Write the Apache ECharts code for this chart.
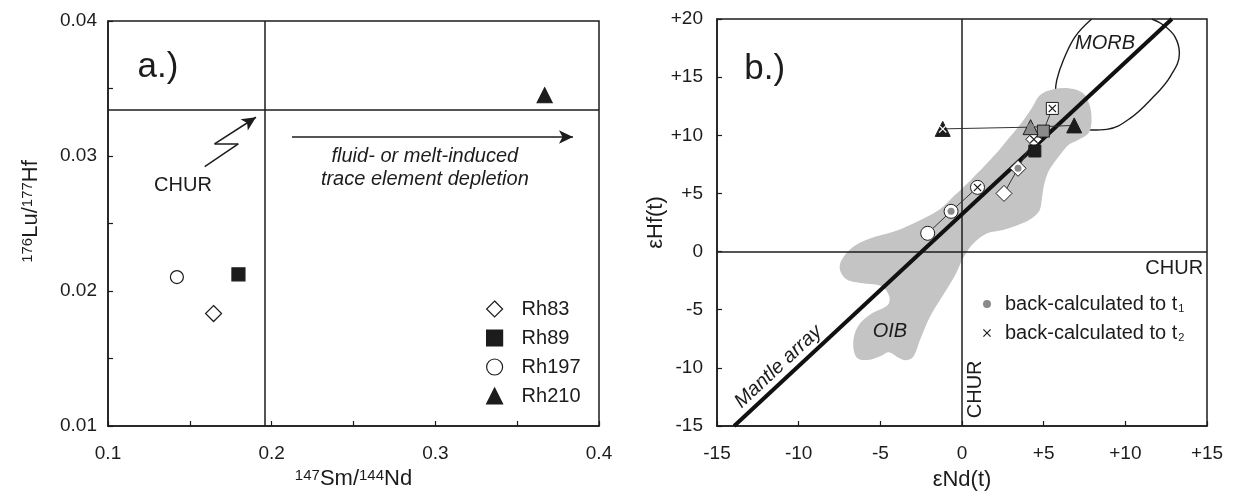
<!DOCTYPE html>
<html>
<head>
<meta charset="utf-8">
<script src="https://cdn.jsdelivr.net/npm/echarts@6/dist/echarts.min.js"></script>
<style>
html,body{margin:0;padding:0;background:#fff;}
#chart{width:1234px;height:497px;}
</style>
</head>
<body>
<div id="chart"></div>
<script>
// ===== Panel a: 147Sm/144Nd vs 176Lu/177Hf =====
const samples = ['Rh83', 'Rh89', 'Rh197', 'Rh210'];
const smNd = [0.1645, 0.1797, 0.1421, 0.3668];
const luHf = [0.01833, 0.02123, 0.02103, 0.0345];
const churSmNd = 0.196;
const churLuHf = 0.03345;
const aXLabels = ['0.1', '0.2', '0.3', '0.4'];
const aYLabels = ['0.01', '0.02', '0.03', '0.04'];

// ===== Panel b: eNd(t) vs eHf(t) =====
const eNdMeas = [2.57, 4.46, -2.10, 6.87];
const eHfMeas = [5.00, 8.65, 1.57, 10.85];
const eNdT1 = [3.43, 4.98, -0.67, 4.20];
const eHfT1 = [7.16, 10.36, 3.46, 10.70];
const eNdT2 = [4.40, 5.53, 0.95, -1.18];
const eHfT2 = [9.65, 12.31, 5.52, 10.55];
const bXLabels = ['-15', '-10', '-5', '0', '+5', '+10', '+15'];
const bYLabels = ['-15', '-10', '-5', '0', '+5', '+10', '+15', '+20'];
const mantleArray = [[-13.95, -15], [12.85, 20]];
const morbOutline = [[7.94, 20], [6.92, 18.47], [6.21, 16.47], [5.8, 14.75], [5.72, 13.6], [6.3, 12.0], [7.2, 10.8],
  [7.94, 10.45], [8.86, 10.51], [10.29, 11.45], [11.72, 13.31], [12.74, 15.03], [13.31, 17.04], [13.04, 18.47],
  [12.33, 19.48], [11.62, 20]];
const oibField = [[4.78, 13.46], [5.59, 13.95], [6.61, 14.03], [7.43, 13.6], [7.84, 12.45], [7.92, 11.0], [7.7, 10.1],
  [7.1, 9.6], [6.55, 9.2], [6.07, 8.43], [5.6, 7.57], [5.24, 6.71], [5.0, 5.57], [4.88, 4.43], [4.76, 3.57], [4.4, 3.0],
  [3.69, 2.43], [2.5, 1.86], [1.55, 1.57], [0.71, 0.71], [0.12, -0.43], [-0.36, -1.86], [-0.83, -3.0], [-1.35, -4.17],
  [-1.96, -5.61], [-2.57, -7.61], [-2.98, -9.04], [-3.45, -9.35], [-3.85, -9.15], [-4.5, -8.65], [-5.0, -9.0],
  [-5.84, -9.33], [-6.45, -9.1], [-6.66, -7.89], [-6.4, -6.5], [-5.6, -5.4], [-4.55, -4.6], [-4.45, -3.85], [-4.9, -3.0],
  [-6.04, -2.73], [-7.06, -2.4], [-7.47, -1.59], [-7.37, -0.73], [-6.66, 0.41], [-5.63, 1.13], [-4.21, 1.7],
  [-2.98, 2.42], [-1.4, 3.6], [-0.4, 4.9], [0.5, 6.1], [1.4, 7.4], [2.2, 8.6], [2.9, 9.8], [3.6, 11.0], [4.3, 12.4]];

// ===== styles =====
const FONT = '"Liberation Sans", Arial, sans-serif';
const INK = '#1c1c1c';
const GRAY = '#8a8a8a';
const symbols = ['diamond', 'rect', 'circle', 'triangle'];
const sizeA = [16, 13, 13, 15];
const sizeB = [16, 12, 14, 15];
const filled = [false, true, false, true];
const t2Fill = ['#fff', '#fff', '#fff', INK];
const t2Cross = [INK, INK, INK, '#fff'];
const CROSS = 'path://M0,1L1,0L5,4L9,0L10,1L6,5L10,9L9,10L5,6L1,10L0,9L4,5Z';

const textA = [
  {t: 'a.)', x: 0.1305, y: 0.03655, size: 35},
  {t: 'fluid- or melt-induced', x: 0.2936, y: 0.0300, size: 20, italic: true},
  {t: 'trace element depletion', x: 0.2936, y: 0.0283, size: 20, italic: true},
  {t: 'CHUR', x: 0.1458, y: 0.02785, size: 20}
];
const textB = [
  {t: 'b.)', x: -12.08, y: 15.71, size: 35},
  {t: 'MORB', x: 8.76, y: 17.9, size: 20, italic: true},
  {t: 'OIB', x: -4.41, y: -6.9, size: 20, italic: true},
  {t: 'Mantle array', x: -11.25, y: -9.9, size: 20, italic: true, rot: 43},
  {t: 'CHUR', x: 14.76, y: -1.42, size: 20, align: 'right'},
  {t: 'CHUR', x: 0.83, y: -11.85, size: 20, rot: 90}
];

function textSeries(idx, items) {
  return {
    type: 'custom', xAxisIndex: idx, yAxisIndex: idx, z: 10, silent: true, clip: false,
    data: items.map(d => [d.x, d.y]),
    renderItem(params, api) {
      const d = items[params.dataIndex];
      const p = api.coord([api.value(0), api.value(1)]);
      return {
        type: 'text', x: p[0], y: p[1], rotation: (d.rot || 0) * Math.PI / 180,
        style: {text: d.t, fill: INK, fontSize: d.size, fontFamily: FONT,
          fontStyle: d.italic ? 'italic' : 'normal', align: d.align || 'center', verticalAlign: 'middle'}
      };
    }
  };
}

function labelFrom(list, decimals) {
  return v => {
    const s = v.toFixed(decimals);
    return (Math.abs(v - parseFloat(s)) < 1e-9 && list.includes(s)) ? s : '';
  };
}

const axisLine = {show: true, onZero: false, lineStyle: {color: INK, width: 1.5}};
const axisTick = {show: true, inside: true, length: 5, lineStyle: {color: INK, width: 1.2}};
const lbl = {fontSize: 19, color: INK, fontFamily: FONT};
const nameStyle = {fontSize: 22, color: INK, fontFamily: FONT,
  rich: {s: {fontSize: 15, color: INK, fontFamily: FONT, verticalAlign: 'top', padding: [0, 0, 6, 0]}}};

const series = [];
// ---- panel a ----
series.push({
  type: 'line', xAxisIndex: 0, yAxisIndex: 0, data: [], silent: true,
  markLine: {
    silent: true, symbol: 'none', animation: false, z: 5, precision: 6,
    label: {show: false}, lineStyle: {color: INK, width: 1.5, type: 'solid'},
    data: [
      {xAxis: churSmNd}, {yAxis: churLuHf},
      [{coord: [0.2124, 0.03141], symbol: 'none'}, {coord: [0.3841, 0.03141], symbol: 'arrow', symbolSize: [10, 14]}],
      [{coord: [0.1591, 0.02921], symbol: 'none'}, {coord: [0.1796, 0.03089], symbol: 'none'}],
      [{coord: [0.1796, 0.03089], symbol: 'none'}, {coord: [0.1651, 0.03089], symbol: 'none'}],
      [{coord: [0.1651, 0.03089], symbol: 'none'}, {coord: [0.1904, 0.03287], symbol: 'arrow', symbolSize: [10, 14]}]
    ]
  }
});
samples.forEach((name, i) => {
  series.push({
    name, type: 'scatter', xAxisIndex: 0, yAxisIndex: 0, z: 6,
    symbol: symbols[i], symbolSize: sizeA[i],
    itemStyle: {color: filled[i] ? INK : '#fff', borderColor: INK, borderWidth: 1.2, opacity: 1},
    data: [[smNd[i], luHf[i]]]
  });
});
series.push(textSeries(0, textA));

// ---- panel b ----
series.push({
  type: 'line', xAxisIndex: 1, yAxisIndex: 1, z: 1, silent: true, smooth: 0.4, symbol: 'none',
  lineStyle: {color: INK, width: 1.4}, data: morbOutline
});
series.push({
  type: 'custom', xAxisIndex: 1, yAxisIndex: 1, z: 2, silent: true,
  data: oibField,
  renderItem(params, api) {
    if (params.dataIndex !== 0) return null;
    const pts = oibField.map(p => api.coord(p));
    return {type: 'polygon', shape: {points: pts, smooth: 0.35}, style: {fill: '#c4c4c4'}};
  }
});
series.push({
  type: 'line', xAxisIndex: 1, yAxisIndex: 1, data: [], silent: true,
  markLine: {
    silent: true, symbol: 'none', animation: false, z: 3, precision: 6,
    label: {show: false}, lineStyle: {color: INK, width: 1.5, type: 'solid'},
    data: [{xAxis: 0}, {yAxis: 0}]
  }
});
series.push({
  type: 'line', xAxisIndex: 1, yAxisIndex: 1, z: 4, silent: true, symbol: 'none',
  lineStyle: {color: '#111', width: 4}, data: mantleArray
});
samples.forEach((name, i) => {
  series.push({
    type: 'line', xAxisIndex: 1, yAxisIndex: 1, z: 5, silent: true, symbol: 'none',
    lineStyle: {color: '#333', width: 1},
    data: [[eNdMeas[i], eHfMeas[i]], [eNdT1[i], eHfT1[i]], [eNdT2[i], eHfT2[i]]]
  });
  series.push({
    name, type: 'scatter', xAxisIndex: 1, yAxisIndex: 1, z: 6,
    symbol: symbols[i], symbolSize: sizeB[i],
    itemStyle: {borderColor: INK, borderWidth: 1, opacity: 1},
    data: [
      {value: [eNdMeas[i], eHfMeas[i]], itemStyle: {color: filled[i] ? INK : '#fff'}},
      {value: [eNdT1[i], eHfT1[i]], itemStyle: {color: filled[i] ? GRAY : '#fff'}},
      {value: [eNdT2[i], eHfT2[i]], itemStyle: {color: t2Fill[i]}}
    ]
  });
});
series.push({
  name: 't1', type: 'scatter', xAxisIndex: 1, yAxisIndex: 1, z: 7, symbol: 'circle', symbolSize: 7,
  itemStyle: {color: GRAY, opacity: 1},
  data: eNdT1.map((x, i) => [x, eHfT1[i]])
});
series.push({
  name: 't2', type: 'scatter', xAxisIndex: 1, yAxisIndex: 1, z: 7, symbol: CROSS, symbolSize: 8,
  itemStyle: {color: INK, opacity: 1},
  data: eNdT2.map((x, i) => ({value: [x, eHfT2[i]], itemStyle: {color: t2Cross[i]}}))
});
series.push(textSeries(1, textB));

const option = {
  animation: false,
  backgroundColor: '#fff',
  grid: [
    {left: 108, top: 21, width: 491, height: 405, show: true, borderColor: INK, borderWidth: 1.5, backgroundColor: 'transparent'},
    {left: 717, top: 19, width: 490, height: 407, show: true, borderColor: INK, borderWidth: 1.5, backgroundColor: 'transparent'}
  ],
  xAxis: [
    {type: 'value', gridIndex: 0, min: 0.1, max: 0.4, interval: 0.05,
      axisLine, axisTick, splitLine: {show: false},
      axisLabel: Object.assign({margin: 18, formatter: labelFrom(aXLabels, 1)}, lbl),
      name: '{s|147}Sm/{s|144}Nd', nameLocation: 'middle', nameGap: 39, nameTextStyle: nameStyle},
    {type: 'value', gridIndex: 1, min: -15, max: 15, interval: 5,
      axisLine, axisTick, splitLine: {show: false},
      axisLabel: Object.assign({margin: 18, formatter: v => bXLabels[Math.round((v + 15) / 5)]}, lbl),
      name: 'εNd(t)', nameLocation: 'middle', nameGap: 43, nameTextStyle: {fontSize: 22, color: INK, fontFamily: FONT}}
  ],
  yAxis: [
    {type: 'value', gridIndex: 0, min: 0.01, max: 0.04, interval: 0.005,
      axisLine, axisTick, splitLine: {show: false},
      axisLabel: Object.assign({margin: 11, formatter: labelFrom(aYLabels, 2)}, lbl),
      name: '{s|176}Lu/{s|177}Hf', nameLocation: 'middle', nameRotate: 90, nameGap: 66,
      nameTextStyle: Object.assign({}, nameStyle, {padding: [0, 0, 0, 24]})},
    {type: 'value', gridIndex: 1, min: -15, max: 20, interval: 5,
      axisLine, axisTick, splitLine: {show: false},
      axisLabel: Object.assign({margin: 14, formatter: v => bYLabels[Math.round((v + 15) / 5)]}, lbl),
      name: 'εHf(t)', nameLocation: 'middle', nameRotate: 90, nameGap: 50,
      nameTextStyle: {fontSize: 22, color: INK, fontFamily: FONT}}
  ],
  legend: [
    {data: samples, orient: 'vertical', left: 481, top: 294, itemWidth: 16, itemHeight: 16, itemGap: 9,
      selectedMode: false, symbolKeepAspect: true,
      formatter: n => '{g|}' + n,
      textStyle: {fontSize: 20, fontFamily: FONT, color: INK, lineHeight: 20, rich: {g: {width: 14}}},
      itemStyle: {borderColor: INK, borderWidth: 1.2}},
    {data: ['t1', 't2'], orient: 'vertical', left: 978, top: 289, itemWidth: 26, itemHeight: 8, itemGap: 9,
      selectedMode: false,
      formatter: n => 'back-calculated to t{s|' + n.slice(1) + '}',
      textStyle: {fontSize: 20, fontFamily: FONT, color: INK, lineHeight: 20,
        rich: {s: {fontSize: 11, fontFamily: FONT, color: INK, padding: [9, 0, 0, 1]}}},
      itemStyle: {borderWidth: 0}}
  ],
  series
};

const chart = echarts.init(document.getElementById('chart'), null, {renderer: 'canvas'});
chart.setOption(option);
</script>
</body>
</html>
